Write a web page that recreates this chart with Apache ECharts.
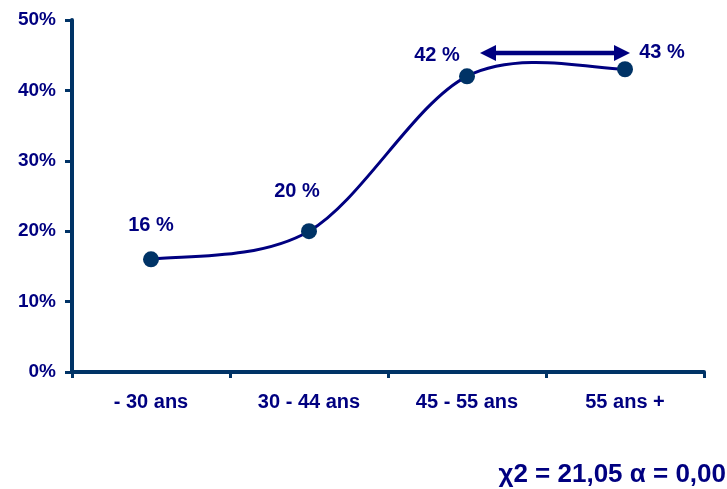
<!DOCTYPE html>
<html>
<head>
<meta charset="utf-8">
<script src="https://cdn.jsdelivr.net/npm/echarts@6/dist/echarts.min.js"></script>
<style>
html,body{margin:0;padding:0;background:#fff;}
#chart{width:727px;height:489px;}
</style>
</head>
<body>
<div id="chart"></div>
<script>
// ---- data ----
var categories = ['- 30 ans', '30 - 44 ans', '45 - 55 ans', '55 ans +'];
var values = [16, 20, 42, 43];
var yTicks = [0, 10, 20, 30, 40, 50];
var statText = 'χ2 = 21,05 α = 0,00';
var arrowFrom = '45 - 55 ans';
var arrowTo = '55 ans +';
var arrowLevel = 45.3;

// ---- style ----
var FONT = 'Arial, "Liberation Sans", sans-serif';
var TEXT = '#000080';
var AXIS = '#003366';
var LINE = '#000080';
var labelOffsets = [[0, -34], [-12, -40], [-30, -21], [37, -17]];

var chart = echarts.init(document.getElementById('chart'));

var seriesData = values.map(function (v, i) {
  return { value: v, label: { offset: labelOffsets[i] } };
});

// Spline (Catmull-Rom style, like a spreadsheet "smoothed line") drawn through the data via the axes
function renderCurve(params, api) {
  if (params.dataIndex !== 0) return null;
  var pts = values.map(function (v, i) { return api.coord([i, v]); });
  var n = pts.length, children = [];
  for (var i = 0; i < n - 1; i++) {
    var p0 = pts[Math.max(i - 1, 0)], p1 = pts[i], p2 = pts[i + 1], p3 = pts[Math.min(i + 2, n - 1)];
    children.push({
      type: 'bezierCurve',
      shape: {
        x1: p1[0], y1: p1[1], x2: p2[0], y2: p2[1],
        cpx1: p1[0] + (p2[0] - p0[0]) / 6, cpy1: p1[1] + (p2[1] - p0[1]) / 6,
        cpx2: p2[0] - (p3[0] - p1[0]) / 6, cpy2: p2[1] - (p3[1] - p1[1]) / 6
      },
      style: { stroke: LINE, lineWidth: 3, fill: null }
    });
  }
  return { type: 'group', children: children };
}

chart.setOption({
  animation: false,
  backgroundColor: '#fff',
  grid: { left: 72, right: 23, top: 20, bottom: 117 },
  xAxis: {
    type: 'category',
    data: categories,
    boundaryGap: true,
    axisLine: { lineStyle: { color: AXIS, width: 4, cap: 'round' } },
    axisTick: { show: true, length: 6, lineStyle: { color: AXIS, width: 3 } },
    axisLabel: { color: TEXT, fontFamily: FONT, fontWeight: 'bold', fontSize: 20, margin: 20 }
  },
  yAxis: {
    type: 'value',
    min: yTicks[0],
    max: yTicks[yTicks.length - 1],
    interval: yTicks[1] - yTicks[0],
    splitLine: { show: false },
    axisLine: { show: true, lineStyle: { color: AXIS, width: 4, cap: 'round' } },
    axisTick: { show: true, length: 7, lineStyle: { color: AXIS, width: 3 } },
    axisLabel: {
      color: TEXT, fontFamily: FONT, fontWeight: 'bold', fontSize: 19, margin: 16,
      formatter: function (v) { return v + '%'; }
    }
  },
  series: [{
    type: 'custom',
    data: values.map(function (v, i) { return [i, v]; }),
    renderItem: renderCurve,
    silent: true,
    z: 2
  }, {
    type: 'line',
    data: seriesData,
    symbol: 'circle',
    symbolSize: 16,
    lineStyle: { width: 0, opacity: 0 },
    itemStyle: { color: AXIS },
    label: {
      show: true,
      position: 'inside',
      color: TEXT,
      fontFamily: FONT,
      fontWeight: 'bold',
      fontSize: 20,
      formatter: function (p) { return p.value + ' %'; }
    },
    z: 3
  }]
});

// double-headed arrow between the two last categories, positioned through the axes
var pA = chart.convertToPixel({ xAxisIndex: 0, yAxisIndex: 0 }, [arrowFrom, arrowLevel]);
var pB = chart.convertToPixel({ xAxisIndex: 0, yAxisIndex: 0 }, [arrowTo, arrowLevel]);
var x1 = pA[0] + 13, x2 = pB[0] + 5, y = pA[1];
var headL = 16, headH = 8;
chart.setOption({
  graphic: [{
    type: 'text',
    right: 1,
    top: 462,
    style: { text: statText, fill: TEXT, font: 'bold 26px ' + FONT }
  }, {
    type: 'line',
    shape: { x1: x1 + headL - 2, y1: y, x2: x2 - headL + 2, y2: y },
    style: { stroke: LINE, lineWidth: 4.5 },
    z: 10
  }, {
    type: 'polygon',
    shape: { points: [[x1, y], [x1 + headL, y - headH], [x1 + headL, y + headH]] },
    style: { fill: LINE },
    z: 10
  }, {
    type: 'polygon',
    shape: { points: [[x2, y], [x2 - headL, y - headH], [x2 - headL, y + headH]] },
    style: { fill: LINE },
    z: 10
  }]
});
</script>
</body>
</html>
